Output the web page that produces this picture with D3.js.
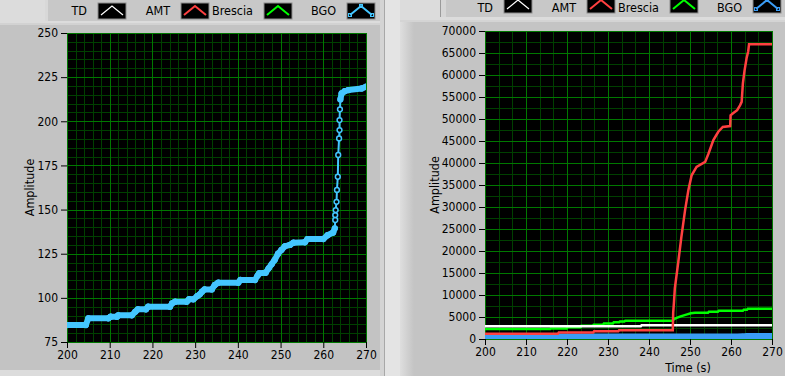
<!DOCTYPE html>
<html>
<head>
<meta charset="utf-8">
<script src="https://cdn.jsdelivr.net/npm/d3@7"></script>
<style>
  body { margin: 0; background: #dcdcdc; }
  svg { display: block; font-family: "DejaVu Sans Condensed", "Liberation Sans", sans-serif; }
  .tick text { font-size: 12px; fill: #000; }
  .tick line { stroke: #000; }
  .lbl { font-size: 12.5px; fill: #000; }
</style>
</head>
<body>
<div id="chart"></div>
<script>
// legend entries (same on both graphs)
var legendNames = ["TD", "AMT", "Brescia", "BGO"];

// tick labels
var timeTicks = [200, 210, 220, 230, 240, 250, 260, 270];
var leftTicks = [75, 100, 125, 150, 175, 200, 225, 250];
var rightTicks = [0, 5000, 10000, 15000, 20000, 25000, 30000, 35000,
                  40000, 45000, 50000, 55000, 60000, 65000, 70000];

// BGO counts, [time (s), amplitude]
var bgoPoints = [
  [200, 84.6], [204.4, 84.6], [205, 88.4], [209.7, 88.4], [210.2, 89.3], [211.7, 89.3],
  [212, 90.1], [215.2, 90.1], [216, 92.2], [216.6, 93.5], [218.5, 93.5], [219, 95],
  [224.1, 95], [224.6, 96.9], [225.3, 97.8], [228, 97.8], [228.6, 99.2], [229.6, 99.2],
  [230.5, 101], [231.1, 102], [231.6, 103.5], [232.2, 104.8], [233.9, 104.8], [234.6, 107.3],
  [235.4, 108.6], [240.1, 108.6], [240.6, 110.1], [244, 110.1], [244.6, 112.5], [245, 113.9],
  [246.5, 114.2], [247.2, 116.7], [247.9, 119], [248.6, 121.4], [249.4, 125], [250.2, 127.1],
  [251, 129.2], [252.2, 130], [253, 131.2], [255.7, 131.5], [256.3, 133.3], [260, 133.3],
  [261, 135.5], [262.3, 137], [262.7, 139.4], [262.8, 144.1], [262.8, 146.9], [262.9, 149.7],
  [263.1, 154.4], [263.2, 161.1], [263.4, 168.6], [263.5, 180.9], [263.7, 190.3], [263.8, 195],
  [263.8, 200.7], [263.9, 206.8], [264, 212.4], [264.3, 215.8], [265, 217], [265.9, 217.7],
  [269, 218.6], [270, 219.6]
];

// TD, AMT and Brescia on the right graph
var tdPoints = [[200, 2900], [238, 2900], [238.2, 3150], [270, 3150]];

var amtPoints = [
  [200, 1200], [217.8, 1200], [218, 1500], [226.4, 1500], [226.6, 1750], [232.5, 1750],
  [232.7, 2000], [245.8, 2000], [245.9, 6000], [246.1, 8500], [246.3, 11500], [247.1, 17200],
  [247.9, 23200], [248.8, 29300], [249.6, 33800], [250.4, 37200], [251.6, 39100], [253.7, 40250],
  [254.5, 42100], [255.7, 45200], [256.9, 47100], [258, 48200], [259.8, 48400], [259.9, 50850],
  [260.5, 51300], [261.5, 52000], [262.2, 53100], [262.6, 53900], [262.9, 58100], [263.3, 61000],
  [263.8, 63800], [264.2, 65400], [264.4, 67000], [270, 67000]
];

var bresciaPoints = [
  [200, 2250], [215.9, 2250], [216, 2400], [219.9, 2400], [220, 2650], [223.3, 2650],
  [223.5, 3000], [226.3, 3000], [226.5, 3250], [228.8, 3250], [229, 3550], [231.2, 3550],
  [231.4, 3780], [232.7, 3780], [232.9, 4000], [234, 4000], [234.2, 4160], [245.8, 4160],
  [246.1, 4540], [246.9, 4840], [247.7, 5150], [248.5, 5380], [249.3, 5600], [250.2, 5830],
  [251.2, 5970], [254.4, 5970], [254.6, 6200], [256.8, 6200], [257, 6420], [262.9, 6420],
  [263.1, 6650], [263.9, 6650], [264.1, 6880], [270, 6880]
];

var svgWidth = 785;
var svgHeight = 376;

var svg = d3.select("#chart")
  .append("svg")
  .attr("width", svgWidth)
  .attr("height", svgHeight);

// panel backgrounds, LabVIEW style
var defs = svg.append("defs");
var grad = defs.append("linearGradient").attr("id", "edge");
grad.append("stop").attr("offset", "0%").attr("stop-color", "#dedede");
grad.append("stop").attr("offset", "100%").attr("stop-color", "#c4c4c4");

svg.append("rect").attr("width", svgWidth).attr("height", svgHeight).attr("fill", "#dcdcdc");

// left graph frame
svg.append("rect").attr("x", 0).attr("y", 23).attr("width", 380).attr("height", 347).attr("fill", "#c3c3c3");
svg.append("rect").attr("x", 0).attr("y", 23).attr("width", 380).attr("height", 2).attr("fill", "#d2d2d2");
svg.append("rect").attr("x", 45).attr("y", 0).attr("width", 336).attr("height", 21).attr("fill", "#c8c8c8");
svg.append("rect").attr("x", 45).attr("y", 0).attr("width", 3).attr("height", 21).attr("fill", "#d8d8d8");
svg.append("rect").attr("x", 380).attr("y", 0).attr("width", 4).attr("height", svgHeight).attr("fill", "#d4d4d4");
svg.append("rect").attr("x", 384).attr("y", 0).attr("width", 1).attr("height", svgHeight).attr("fill", "#a8a8a8");
svg.append("rect").attr("x", 385).attr("y", 0).attr("width", 15).attr("height", svgHeight).attr("fill", "#e4e4e4");

// right graph frame
svg.append("rect").attr("x", 400).attr("y", 20).attr("width", 385).attr("height", 356).attr("fill", "#c4c4c4");
svg.append("rect").attr("x", 400).attr("y", 20).attr("width", 14).attr("height", 356).attr("fill", "url(#edge)");
svg.append("rect").attr("x", 400).attr("y", 20).attr("width", 385).attr("height", 2).attr("fill", "#d4d4d4");
svg.append("rect").attr("x", 440).attr("y", 0).attr("width", 345).attr("height", 17).attr("fill", "#c8c8c8");
svg.append("rect").attr("x", 440).attr("y", 0).attr("width", 1).attr("height", 17).attr("fill", "#9a9a9a");
svg.append("rect").attr("x", 441).attr("y", 0).attr("width", 5).attr("height", 17).attr("fill", "#d6d6d6");

// plot colours
var colors = { TD: "#ffffff", AMT: "#ff4040", Brescia: "#00ff00", BGO: "#44c6ff" };

function drawLegend(top, textY, firstSwatch, bgoColor) {
  legendNames.forEach(function(name, i) {
    var sx = firstSwatch + i * 83;
    var col = name === "BGO" ? bgoColor : colors[name];
    svg.append("text")
      .attr("class", "lbl")
      .attr("x", sx - 11)
      .attr("y", textY)
      .attr("text-anchor", "end")
      .text(name);
    svg.append("rect")
      .attr("x", sx).attr("y", top)
      .attr("width", 28).attr("height", 16)
      .attr("fill", "#000")
      .attr("stroke", "#8c8c8c");
    var pts = [[sx + 3, top + 12], [sx + 14, top + 3], [sx + 25, top + 12]];
    svg.append("path")
      .attr("d", d3.line()(pts))
      .attr("fill", "none")
      .attr("stroke", col)
      .attr("stroke-width", name === "TD" ? 1.2 : 2);
    if (name === "BGO") {
      svg.selectAll(null)
        .data(pts).enter()
        .append("rect")
        .attr("x", d => d[0] - 1.5).attr("y", d => d[1] - 1.5)
        .attr("width", 3).attr("height", 3)
        .attr("fill", "none").attr("stroke", col);
    }
  });
}

function drawGraph(opt) {
  var g = svg.append("g");
  var x = d3.scaleLinear().domain([200, 270]).range([opt.left, opt.right]);
  var y = d3.scaleLinear().domain(opt.yDomain).range([opt.bottom, opt.top]);

  g.append("rect")
    .attr("x", opt.left).attr("y", opt.top)
    .attr("width", opt.right - opt.left).attr("height", opt.bottom - opt.top)
    .attr("fill", "#000");

  // minor then major grid
  var xMinor = d3.range(200, 270.001, opt.xMinor);
  var yMinor = d3.range(opt.yDomain[0], opt.yDomain[1] + 0.001, opt.yMinor);
  g.selectAll(null).data(xMinor).enter().append("line")
    .attr("x1", d => Math.round(x(d)) + 0.5).attr("x2", d => Math.round(x(d)) + 0.5)
    .attr("y1", opt.top).attr("y2", opt.bottom)
    .attr("stroke", "#004000");
  g.selectAll(null).data(yMinor).enter().append("line")
    .attr("y1", d => Math.round(y(d)) + 0.5).attr("y2", d => Math.round(y(d)) + 0.5)
    .attr("x1", opt.left).attr("x2", opt.right)
    .attr("stroke", "#004000");
  g.selectAll(null).data(timeTicks).enter().append("line")
    .attr("x1", d => Math.round(x(d)) + 0.5).attr("x2", d => Math.round(x(d)) + 0.5)
    .attr("y1", opt.top).attr("y2", opt.bottom)
    .attr("stroke", "#007800");
  g.selectAll(null).data(opt.yTicks).enter().append("line")
    .attr("y1", d => Math.round(y(d)) + 0.5).attr("y2", d => Math.round(y(d)) + 0.5)
    .attr("x1", opt.left).attr("x2", opt.right)
    .attr("stroke", "#007800");

  // axes
  var xAxis = g.append("g")
    .attr("transform", `translate(0, ${opt.bottom})`)
    .call(d3.axisBottom(x).tickValues(timeTicks).tickSize(6).tickPadding(2).tickFormat(d3.format("d")));
  var yAxis = g.append("g")
    .attr("transform", `translate(${opt.left}, 0)`)
    .call(d3.axisLeft(y).tickValues(opt.yTicks).tickSize(6).tickPadding(3).tickFormat(d3.format("d")));
  xAxis.select(".domain").remove();
  yAxis.select(".domain").remove();
  xAxis.attr("font-family", null).attr("font-size", null);
  yAxis.attr("font-family", null).attr("font-size", null);

  g.append("text")
    .attr("class", "lbl")
    .attr("transform", `translate(${opt.titleX}, ${(opt.top + opt.bottom) / 2}) rotate(-90)`)
    .attr("text-anchor", "middle")
    .text("Amplitude");

  var clipId = "clip" + opt.left;
  defs.append("clipPath").attr("id", clipId)
    .append("rect")
    .attr("x", opt.left).attr("y", opt.top)
    .attr("width", opt.right - opt.left).attr("height", opt.bottom - opt.top);

  var plots = g.append("g").attr("clip-path", `url(#${clipId})`);
  return { x: x, y: y, g: g, plots: plots };
}

// ---- left graph: BGO only ----
drawLegend(3, 15, 98, colors.BGO);
var left = drawGraph({
  left: 67, right: 366, top: 33, bottom: 342,
  yDomain: [75, 250], yTicks: leftTicks, xMinor: 2, yMinor: 5, titleX: 34
});

var line = d3.line().x(d => left.x(d[0])).y(d => left.y(d[1]));
left.plots.append("path")
  .attr("d", line(bgoPoints))
  .attr("fill", "none")
  .attr("stroke", colors.BGO)
  .attr("stroke-width", 2);

left.plots.selectAll("circle")
  .data(bgoPoints).enter()
  .append("circle")
  .attr("cx", d => left.x(d[0]))
  .attr("cy", d => left.y(d[1]))
  .attr("r", 2.4)
  .attr("fill", "#000")
  .attr("stroke", colors.BGO)
  .attr("stroke-width", 1.5);

// densely sampled stretches render as a solid band
var bgoSegments = d3.pairs(bgoPoints).filter(function(p) {
  var dx = Math.abs(left.x(p[1][0]) - left.x(p[0][0]));
  var dy = Math.abs(left.y(p[1][1]) - left.y(p[0][1]));
  return dy <= 3 * dx + 3;
});
left.plots.selectAll(".band")
  .data(bgoSegments).enter()
  .append("path")
  .attr("class", "band")
  .attr("d", d => line(d))
  .attr("fill", "none")
  .attr("stroke", colors.BGO)
  .attr("stroke-width", 6)
  .attr("stroke-linecap", "round");

// ---- right graph: all four ----
drawLegend(-3, 12, 504, "#3a9cf5");
var right = drawGraph({
  left: 485, right: 772, top: 31, bottom: 339,
  yDomain: [0, 70000], yTicks: rightTicks, xMinor: 10 / 3, yMinor: 2500, titleX: 439
});

var rline = d3.line().x(d => right.x(d[0])).y(d => right.y(d[1]));
var rightSeries = [
  { name: "BGO", data: bgoPoints, color: "#3a9cf5", width: 10 },
  { name: "Brescia", data: bresciaPoints, color: colors.Brescia, width: 2.5 },
  { name: "TD", data: tdPoints, color: colors.TD, width: 2.5 },
  { name: "AMT", data: amtPoints, color: colors.AMT, width: 2.5 }
];
right.plots.selectAll("path")
  .data(rightSeries).enter()
  .append("path")
  .attr("d", d => rline(d.data))
  .attr("fill", "none")
  .attr("stroke", d => d.color)
  .attr("stroke-width", d => d.width);

svg.append("text")
  .attr("class", "lbl")
  .attr("x", 688)
  .attr("y", 372)
  .attr("text-anchor", "middle")
  .text("Time (s)");
</script>
</body>
</html>
